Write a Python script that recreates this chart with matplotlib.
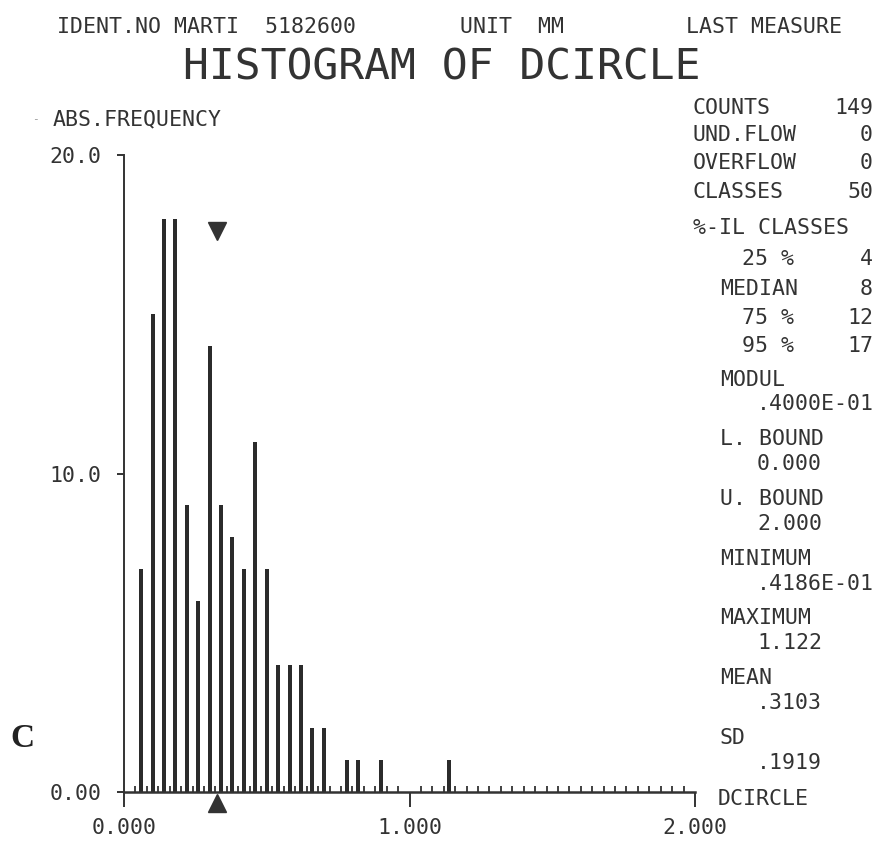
import numpy as np
import matplotlib
matplotlib.use('Agg')
import matplotlib.pyplot as plt
import matplotlib.transforms as mtransforms
from matplotlib.ticker import MultipleLocator

# class mid points (class width 0.04) and absolute frequency per class
class_mid = [0.06, 0.10, 0.14, 0.18, 0.22, 0.26, 0.30, 0.34, 0.38, 0.42, 0.46,
             0.50, 0.54, 0.58, 0.62, 0.66, 0.70, 0.78, 0.82, 0.90, 1.14]
abs_freq = [7, 15, 18, 18, 9, 6, 14, 9, 8, 7, 11,
            7, 4, 4, 4, 2, 2, 1, 1, 1, 1]
median_mark = 0.325

y_ticks = [0, 10, 20]
y_labels = ['0.00', '10.0', '20.0']
x_ticks = [0, 1, 2]
x_labels = ['0.000', '1.000', '2.000']

header = ['IDENT.NO MARTI  5182600', 'UNIT  MM', 'LAST MEASURE']
title = 'HISTOGRAM OF DCIRCLE'
stats_top = [('COUNTS', '149'), ('UND.FLOW', '0'), ('OVERFLOW', '0'), ('CLASSES', '50')]
pct_rows = [('25 %', '4'), ('MEDIAN', '8'), ('75 %', '12'), ('95 %', '17')]
stat_blocks = [('MODUL', '.4000E-01'), ('L. BOUND', '0.000'), ('U. BOUND', '2.000'),
               ('MINIMUM', '.4186E-01'), ('MAXIMUM', '1.122'), ('MEAN', '.3103'),
               ('SD', '.1919')]

W, H = 879, 849
ink = '#333333'
mono = 'DejaVu Sans Mono'
fs = 15.5

fig = plt.figure(figsize=(W / 100, H / 100), dpi=100)
fig.patch.set_facecolor('white')


def put(x, y, s, size=fs, ha='left', **kw):
    # x, y in pixels from top-left, y is the baseline
    fig.text(x / W, 1 - y / H, s, fontsize=size, ha=ha, va='baseline',
             family=mono, color=ink, **kw)


ax = fig.add_axes([124 / W, 1 - 792 / H, 571 / W, 637 / H])
ax.bar(class_mid, abs_freq, width=0.014, color='#2b2b2b', zorder=2)
ax.set_xlim(0, 2)
ax.set_ylim(0, 20)

for s in ['top', 'right']:
    ax.spines[s].set_visible(False)
ax.spines['left'].set_linewidth(1.4)
ax.spines['bottom'].set_linewidth(1.8)
for s in ['left', 'bottom']:
    ax.spines[s].set_color(ink)

ax.set_xticks(x_ticks)
ax.set_xticklabels(x_labels, family=mono, fontsize=fs, color=ink)
ax.xaxis.set_minor_locator(MultipleLocator(0.04))
ax.tick_params(axis='x', which='major', direction='out', length=10.8, width=1.4,
               pad=8, color=ink)
ax.tick_params(axis='x', which='minor', direction='in', length=4.3, width=1.3,
               color=ink)
ax.set_yticks(y_ticks)
ax.set_yticklabels(y_labels, family=mono, fontsize=fs, color=ink)
ax.tick_params(axis='y', direction='out', length=5, width=1.4, pad=11, color=ink)

# median markers above the bars and under the axis
trans = mtransforms.blended_transform_factory(ax.transData, ax.transAxes)
ax.plot([median_mark], [0.881], 'v', ms=13, color=ink, transform=trans, clip_on=False)
ax.plot([median_mark], [-0.018], '^', ms=13, color=ink, transform=trans, clip_on=False)

# header and title
put(57, 33, header[0])
put(460, 33, header[1])
put(686, 33, header[2])
fig.text(441.5 / W, 1 - 80 / H, title, fontsize=31, ha='center', va='baseline',
         family=mono, color=ink)

put(32, 122, '-', size=8, alpha=0.5)
put(53, 125, 'ABS.FREQUENCY')
fig.text(10 / W, 1 - 747 / H, 'C', fontsize=24, fontweight='bold',
         family='Liberation Serif', color='#222222', va='baseline')

# statistics panel
top_y = [114, 141, 169, 198]
for (lab, val), y in zip(stats_top, top_y):
    put(693, y, lab)
    put(873, y, val, ha='right')
put(693, 234, '%-IL CLASSES')
pct_y = [265, 295, 324, 352]
pct_x = [742, 720, 742, 742]
for (lab, val), y, x in zip(pct_rows, pct_y, pct_x):
    put(x, y, lab)
    put(873, y, val, ha='right')
for i, (lab, val) in enumerate(stat_blocks):
    y = 385.5 + i * 59.7
    put(720, y, lab)
    put(757, y + 25, val)
put(718, 805, 'DCIRCLE')

fig.savefig('out.png', dpi=100)
